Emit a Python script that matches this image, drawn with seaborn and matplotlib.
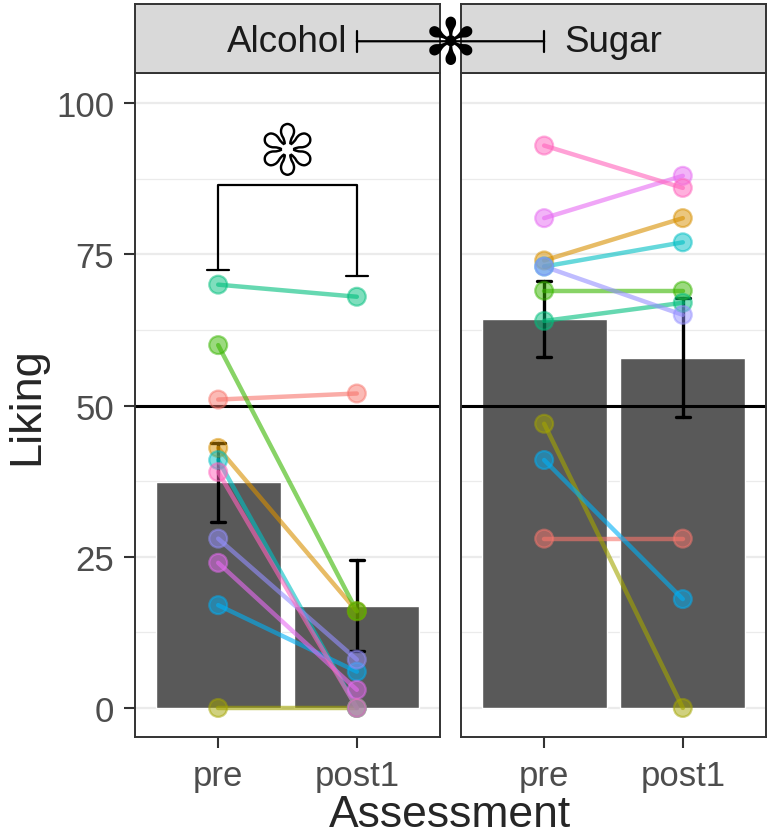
import numpy as np
import pandas as pd
import matplotlib
matplotlib.use("Agg")
import matplotlib.pyplot as plt
import matplotlib.patheffects as pe
import seaborn as sns
from matplotlib.patches import ConnectionPatch

conditions = ["Alcohol", "Sugar"]
assessments = ["pre", "post1"]
subjects = ["s01", "s02", "s03", "s04", "s05", "s06", "s07", "s08", "s09", "s10"]
subject_colors = ["#F8766D", "#D89000", "#A3A500", "#39B600", "#00BF7D",
                  "#00BFC4", "#00B0F6", "#9590FF", "#E76BF3", "#FF62BC"]

# liking per subject
alcohol_pre = [51, 43, 0, 60, 70, 41, 17, 28, 24, 39]
alcohol_post1 = [52, 16, 0, 16, 68, 0, 6, 8, 3, 0]
sugar_pre = [28, 74, 47, 69, 64, 73, 41, 73, 81, 93]
sugar_post1 = [28, 81, 0, 69, 67, 77, 18, 65, 88, 86]

reference_line = 50
sig_mark = "\u273B"

values = {("Alcohol", "pre"): alcohol_pre, ("Alcohol", "post1"): alcohol_post1,
          ("Sugar", "pre"): sugar_pre, ("Sugar", "post1"): sugar_post1}
rows = []
for (cond, asm), vals in values.items():
    for s, v in zip(subjects, vals):
        rows.append({"Condition": cond, "Assessment": asm, "Subject": s, "Liking": v,
                     "pos": assessments.index(asm)})
df = pd.DataFrame(rows)
pal = dict(zip(subjects, subject_colors))

sns.set_style("white")
plt.rcParams["font.family"] = ["Liberation Sans", "DejaVu Sans"]

fig = plt.figure(figsize=(7.71, 8.37), dpi=100)
lefts = [0.1751, 0.5979]
w, bottom, h = 0.3956, 0.1183, 0.7933
strip_h = 0.0824

axes, strips = [], []
for i, cond in enumerate(conditions):
    ax = fig.add_axes([lefts[i], bottom, w, h])
    sub = df[df.Condition == cond]
    sns.barplot(data=sub, x="Assessment", y="Liking", order=assessments,
                color="#595959", saturation=1, width=0.9, errorbar="se",
                capsize=0.1, err_kws={"color": "black", "linewidth": 2.4}, ax=ax)
    ax.axhline(reference_line, color="black", lw=2.2, zorder=2.5)
    sns.lineplot(data=sub, x="pos", y="Liking", hue="Subject", palette=pal,
                 estimator=None, sort=False, alpha=0.6, linewidth=3.2,
                 legend=False, ax=ax, zorder=3)
    sns.scatterplot(data=sub, x="pos", y="Liking", hue="Subject", palette=pal,
                    s=165, alpha=0.5, edgecolor="face", linewidth=1.6,
                    legend=False, ax=ax, zorder=4)
    ax.set_xlim(-0.6, 1.6)
    ax.set_ylim(-4.8, 105)
    ax.set_xticks([0, 1])
    ax.set_xticklabels(assessments)
    ax.set_yticks([0, 25, 50, 75, 100])
    ax.set_yticks([12.5, 37.5, 62.5, 87.5], minor=True)
    ax.set_axisbelow(True)
    ax.grid(axis="y", which="major", color="#EBEBEB", lw=1.6)
    ax.grid(axis="y", which="minor", color="#EBEBEB", lw=0.9)
    ax.tick_params(which="major", bottom=True, left=True, direction="out",
                   length=8, width=1.5, color="#333333", labelsize=25,
                   labelcolor="#4D4D4D")
    ax.tick_params(axis="x", pad=8)
    ax.tick_params(axis="y", pad=7)
    ax.tick_params(which="minor", length=0)
    for sp in ax.spines.values():
        sp.set_color("#333333")
        sp.set_linewidth(1.4)
    ax.set_xlabel("")
    if i == 0:
        ax.set_ylabel("Liking", fontsize=32.5, labelpad=6)
    else:
        ax.set_ylabel("")
        ax.tick_params(axis="y", left=False, labelleft=False)

    st = fig.add_axes([lefts[i], bottom + h, w, strip_h])
    st.set_facecolor("#D9D9D9")
    st.set_xlim(-0.6, 1.6)
    st.set_ylim(0, 1)
    st.set_xticks([])
    st.set_yticks([])
    for sp in st.spines.values():
        sp.set_color("#333333")
        sp.set_linewidth(1.4)
    st.text(0.5, 0.46, cond, ha="center", va="center", fontsize=26.5, color="#1A1A1A")
    axes.append(ax)
    strips.append(st)

# within-condition bracket (Alcohol pre vs post1)
ax = axes[0]
ax.plot([0, 0, 1, 1], [72.5, 86.4, 86.4, 71.5], color="black", lw=1.6, zorder=5)
ax.plot([-0.08, 0.08], [72.5, 72.5], color="black", lw=1.6, zorder=5)
ax.plot([0.92, 1.08], [71.5, 71.5], color="black", lw=1.6, zorder=5)
ax.text(0.5, 91.5, sig_mark, ha="center", va="center", fontsize=46,
        family="DejaVu Sans", color="white", zorder=6,
        path_effects=[pe.withStroke(linewidth=3.5, foreground="black")])

# between-condition bracket in the strips
yb = 0.46
con = ConnectionPatch(xyA=(1, yb), coordsA=strips[0].transData,
                      xyB=(0, yb), coordsB=strips[1].transData,
                      color="black", lw=1.6)
fig.add_artist(con)
strips[0].plot([1, 1], [yb - 0.15, yb + 0.15], color="black", lw=1.6, clip_on=False)
strips[1].plot([0, 0], [yb - 0.15, yb + 0.15], color="black", lw=1.6, clip_on=False)
pa = strips[0].transData.transform((1, yb))
pb = strips[1].transData.transform((0, yb))
mid = fig.transFigure.inverted().transform((pa + pb) / 2 - np.array([0, 4]))
fig.text(mid[0], mid[1], sig_mark, ha="center", va="center", fontsize=46,
         family="DejaVu Sans", color="black", zorder=10)

fig.text(0.5843, 0.012, "Assessment", ha="center", va="baseline", fontsize=32)

fig.savefig("out.png", dpi=100)
